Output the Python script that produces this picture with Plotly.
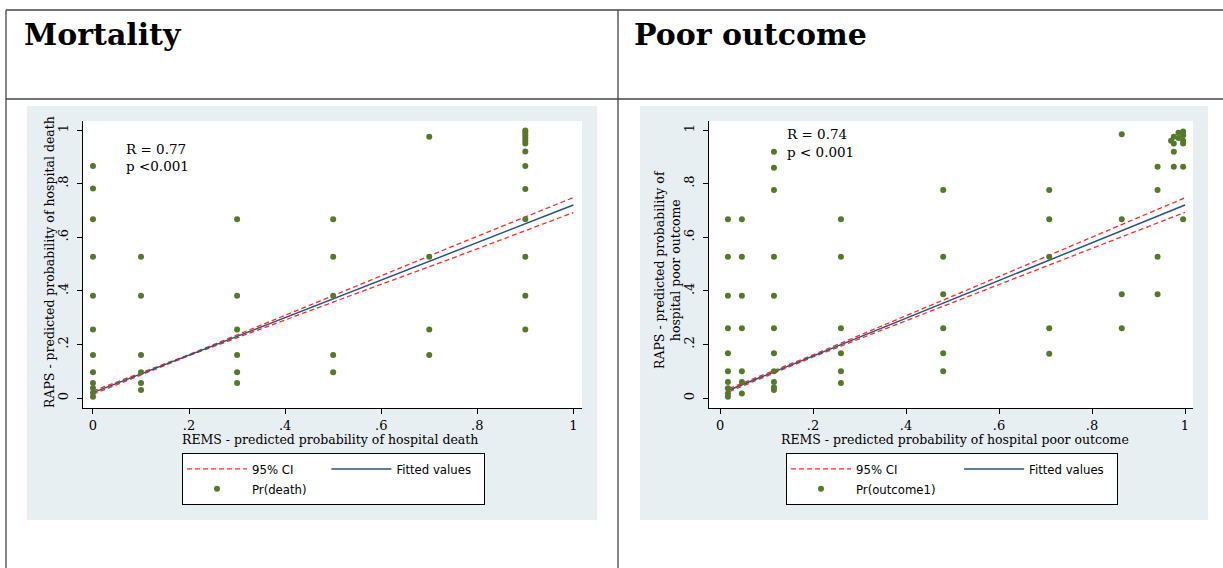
import plotly.graph_objects as go

W, H = 1223, 568

# ---- data: Mortality panel ----
mort_x = [0, 0, 0, 0, 0, 0, 0, 0, 0, 0, 0, 0,
          0.1, 0.1, 0.1, 0.1, 0.1, 0.1,
          0.3, 0.3, 0.3, 0.3, 0.3, 0.3,
          0.5, 0.5, 0.5, 0.5, 0.5,
          0.7, 0.7, 0.7, 0.7,
          0.9, 0.9, 0.9, 0.9, 0.9, 0.9, 0.9, 0.9, 0.9, 0.9, 0.9, 0.9, 0.9]
mort_y = [0.866, 0.782, 0.667, 0.527, 0.382, 0.256, 0.16, 0.096, 0.056, 0.037, 0.02, 0.005,
          0.527, 0.382, 0.16, 0.096, 0.056, 0.03,
          0.667, 0.382, 0.256, 0.16, 0.096, 0.056,
          0.667, 0.527, 0.382, 0.16, 0.096,
          0.975, 0.527, 0.256, 0.16,
          0.998, 0.99, 0.98, 0.97, 0.96, 0.95, 0.92, 0.866, 0.78, 0.667, 0.527, 0.382, 0.256]
mort_fit_x = [0, 1]
mort_fit_y = [0.02, 0.72]
mort_ci_x = [0, 0.2, 0.5, 0.75, 1]
mort_ci_lo = [0.014, 0.158, 0.358, 0.523, 0.692]
mort_ci_hi = [0.026, 0.162, 0.382, 0.567, 0.748]

# ---- data: Poor outcome panel ----
poor_x = [0.017, 0.017, 0.017, 0.017, 0.017, 0.017, 0.017, 0.017, 0.017, 0.017,
          0.047, 0.047, 0.047, 0.047, 0.047, 0.047, 0.047,
          0.116, 0.116, 0.116, 0.116, 0.116, 0.116, 0.116, 0.116, 0.116, 0.116, 0.116,
          0.26, 0.26, 0.26, 0.26, 0.26, 0.26,
          0.48, 0.48, 0.48, 0.48, 0.48, 0.48,
          0.708, 0.708, 0.708, 0.708, 0.708,
          0.864, 0.864, 0.864, 0.864,
          0.941, 0.941, 0.941, 0.941,
          0.976, 0.976, 0.976, 0.976,
          0.996, 0.996, 0.996, 0.996, 0.996, 0.996,
          0.986, 0.986, 0.97]
poor_y = [0.667, 0.527, 0.382, 0.26, 0.167, 0.10, 0.06, 0.036, 0.017, 0.005,
          0.667, 0.527, 0.382, 0.26, 0.10, 0.06, 0.017,
          0.919, 0.859, 0.776, 0.527, 0.382, 0.26, 0.167, 0.10, 0.06, 0.04, 0.03,
          0.667, 0.527, 0.26, 0.167, 0.10, 0.056,
          0.776, 0.527, 0.387, 0.26, 0.167, 0.10,
          0.776, 0.667, 0.527, 0.26, 0.165,
          0.984, 0.667, 0.387, 0.26,
          0.863, 0.776, 0.527, 0.387,
          0.975, 0.95, 0.919, 0.863,
          0.994, 0.98, 0.96, 0.95, 0.863, 0.667,
          0.99, 0.97, 0.96]
poor_fit_x = [0.02, 1]
poor_fit_y = [0.03, 0.72]
poor_ci_x = [0.02, 0.2, 0.5, 0.75, 1]
poor_ci_lo = [0.024, 0.153, 0.356, 0.524, 0.693]
poor_ci_hi = [0.036, 0.161, 0.380, 0.564, 0.747]

tick_vals = [0, 0.2, 0.4, 0.6, 0.8, 1]
tick_text = ["0", ".2", ".4", ".6", ".8", "1"]

SERIF = "DejaVu Serif"
LEGFONT = "DejaVu Sans Condensed, Liberation Sans Narrow, sans-serif"
GREEN = "#55792b"
NAVY = "#2c5178"
RED = "#ff2b2b"
PANEL = "#e8eff2"
NB = "\u00a0"


def px(x):
    return x / W


def py(y):
    return 1 - y / H


fig = go.Figure()


def add_panel(xa, ya, leg, ci_x, ci_lo, ci_hi, fit_x, fit_y, sx, sy, pname, pad):
    fig.add_trace(go.Scatter(
        x=ci_x + [None] + ci_x, y=ci_lo + [None] + ci_hi, mode="lines",
        line=dict(color=RED, width=1.3, dash="5px,3px"), name="95% CI",
        legendgroup=leg + "a", legend=leg, xaxis=xa, yaxis=ya, hoverinfo="skip"))
    fig.add_trace(go.Scatter(
        x=fit_x, y=fit_y, mode="lines", line=dict(color=NAVY, width=1.5),
        name="Fitted values" + NB * 2, legendgroup=leg + "b", legend=leg, xaxis=xa, yaxis=ya))
    fig.add_trace(go.Scatter(
        x=sx, y=sy, mode="markers", marker=dict(color=GREEN, size=6),
        name=pname + NB * pad, legendgroup=leg + "a", legend=leg, xaxis=xa, yaxis=ya))


add_panel("x", "y", "legend", mort_ci_x, mort_ci_lo, mort_ci_hi,
          mort_fit_x, mort_fit_y, mort_x, mort_y, "Pr(death)", 4)
add_panel("x2", "y2", "legend2", poor_ci_x, poor_ci_lo, poor_ci_hi,
          poor_fit_x, poor_fit_y, poor_x, poor_y, "Pr(outcome1)", 5)

ydom = [py(408), py(121)]
axis_common = dict(tickvals=tick_vals, ticktext=tick_text, ticks="outside", ticklen=5,
                   tickcolor="black", showline=True, linecolor="black", linewidth=1,
                   showgrid=False, zeroline=False,
                   tickfont=dict(family=SERIF, size=13, color="black"))

legend_common = dict(orientation="h", traceorder="grouped", xanchor="left", yanchor="top",
                     bgcolor="white", bordercolor="black", borderwidth=1, itemwidth=60,
                     font=dict(family=LEGFONT, size=13, color="black"))

fig.update_layout(
    width=W, height=H, margin=dict(l=0, r=0, t=0, b=0),
    paper_bgcolor="white", plot_bgcolor="white",
    xaxis=dict(domain=[px(83), px(582)], range=[-0.0208, 1.018], anchor="y", **axis_common),
    yaxis=dict(domain=ydom, range=[-0.0373, 1.0336], anchor="x", tickangle=-90,
               ticklabelstandoff=4, **axis_common),
    xaxis2=dict(domain=[px(709), px(1193)], range=[-0.0237, 1.0172], anchor="y2", **axis_common),
    yaxis2=dict(domain=ydom, range=[-0.0373, 1.0336], anchor="x2", tickangle=-90,
                ticklabelstandoff=4, **axis_common),
    legend=dict(x=px(182), y=py(453), **legend_common),
    legend2=dict(x=px(786), y=py(453), **legend_common),
)

# table frame and panel backgrounds
line_style = dict(color="#444444", width=1.3)
shapes = [
    dict(type="line", xref="paper", yref="paper", x0=px(6), x1=1, y0=py(10), y1=py(10), line=line_style),
    dict(type="line", xref="paper", yref="paper", x0=px(6), x1=1, y0=py(99), y1=py(99), line=line_style),
    dict(type="line", xref="paper", yref="paper", x0=px(6), x1=px(6), y0=py(10), y1=0, line=line_style),
    dict(type="line", xref="paper", yref="paper", x0=px(618), x1=px(618), y0=py(10), y1=0, line=line_style),
    dict(type="rect", xref="paper", yref="paper", x0=px(27), x1=px(597), y0=py(520), y1=py(106),
         fillcolor=PANEL, line_width=0, layer="below"),
    dict(type="rect", xref="paper", yref="paper", x0=px(640), x1=px(1208), y0=py(520), y1=py(106),
         fillcolor=PANEL, line_width=0, layer="below"),
    dict(type="rect", xref="x domain", yref="y domain", x0=0, x1=1, y0=0, y1=1,
         fillcolor="white", line_width=0, layer="below"),
    dict(type="rect", xref="x2 domain", yref="y2 domain", x0=0, x1=1, y0=0, y1=1,
         fillcolor="white", line_width=0, layer="below"),
]
fig.update_layout(shapes=shapes)

head_font = dict(family=SERIF, size=30, color="black", weight="bold")
txt_font = dict(family=SERIF, size=13.5, color="black")
lab_font = dict(family=SERIF, size=12.5, color="black")
annotations = [
    dict(text="Mortality", x=px(22), y=py(35), xanchor="left", yanchor="middle", font=head_font),
    dict(text="Poor outcome", x=px(632), y=py(35), xanchor="left", yanchor="middle", font=head_font),
    dict(text="R = 0.77", x=px(124), y=py(149), xanchor="left", yanchor="middle", font=txt_font),
    dict(text="p <0.001", x=px(124), y=py(166), xanchor="left", yanchor="middle", font=txt_font),
    dict(text="R = 0.74", x=px(785), y=py(134), xanchor="left", yanchor="middle", font=txt_font),
    dict(text="p < 0.001", x=px(785), y=py(152), xanchor="left", yanchor="middle", font=txt_font),
    dict(text="REMS - predicted probability of hospital death", x=px(330), y=py(439),
         xanchor="center", yanchor="middle", font=lab_font),
    dict(text="REMS - predicted probability of hospital poor outcome", x=px(955), y=py(439),
         xanchor="center", yanchor="middle", font=lab_font),
    dict(text="RAPS - predicted probability of hospital death", x=px(50), y=py(262),
         xanchor="center", yanchor="middle", textangle=-90, font=lab_font),
    dict(text="RAPS - predicted probability of<br>hospital poor outcome", x=px(668), y=py(270),
         xanchor="center", yanchor="middle", textangle=-90, font=lab_font),
]
for a in annotations:
    a.update(xref="paper", yref="paper", showarrow=False)
fig.update_layout(annotations=annotations)

fig.write_html("out.html", config={"displayModeBar": False},
               post_script="document.body.style.margin = '0';")
